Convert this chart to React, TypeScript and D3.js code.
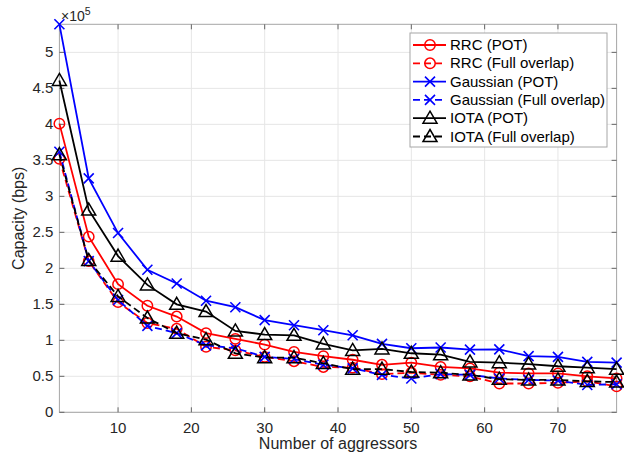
import React from "react";
import * as d3 from "d3";

const xs = [2, 6, 10, 14, 18, 22, 26, 30, 34, 38, 42, 46, 50, 54, 58, 62, 66, 70, 74, 78];
const rrcPot = [4.01, 2.44, 1.78, 1.48, 1.33, 1.10, 1.02, 0.94, 0.84, 0.78, 0.73, 0.66, 0.69, 0.63, 0.61, 0.55, 0.54, 0.54, 0.50, 0.47];
const rrcFull = [3.52, 2.10, 1.53, 1.24, 1.16, 0.91, 0.86, 0.77, 0.71, 0.63, 0.62, 0.53, 0.55, 0.52, 0.50, 0.40, 0.40, 0.41, 0.43, 0.36];
const gaussPot = [5.39, 3.25, 2.49, 1.98, 1.79, 1.55, 1.46, 1.28, 1.21, 1.14, 1.07, 0.95, 0.89, 0.90, 0.87, 0.875, 0.78, 0.77, 0.70, 0.69];
const gaussFull = [3.62, 2.10, 1.56, 1.20, 1.10, 0.93, 0.89, 0.77, 0.74, 0.66, 0.61, 0.52, 0.47, 0.53, 0.52, 0.47, 0.45, 0.44, 0.38, 0.39];
const iotaPot = [4.61, 2.81, 2.17, 1.77, 1.50, 1.40, 1.13, 1.08, 1.07, 0.95, 0.86, 0.88, 0.82, 0.80, 0.70, 0.69, 0.67, 0.64, 0.62, 0.60];
const iotaFull = [3.58, 2.11, 1.61, 1.31, 1.10, 1.01, 0.82, 0.76, 0.76, 0.68, 0.60, 0.60, 0.56, 0.55, 0.52, 0.46, 0.45, 0.45, 0.43, 0.42];

const xTicks = [10, 20, 30, 40, 50, 60, 70];
const yTicks = [0, 0.5, 1, 1.5, 2, 2.5, 3, 3.5, 4, 4.5, 5];

const seriesNames = ["RRC (POT)", "RRC (Full overlap)", "Gaussian (POT)", "Gaussian (Full overlap)", "IOTA (POT)", "IOTA (Full overlap)"];
const seriesValues = [rrcPot, rrcFull, gaussPot, gaussFull, iotaPot, iotaFull];
const seriesColors = ["#ff0000", "#ff0000", "#0000ff", "#0000ff", "#000000", "#000000"];
const seriesDashed = [false, true, false, true, false, true];
const seriesMarkers = ["circle", "circle", "x", "x", "triangle", "triangle"];

const W = 624, H = 459;
const M = { left: 59.4, right: 616.6, top: 24.3, bottom: 412.3 };
const FONT = "'Liberation Sans', Arial, Helvetica, sans-serif";
const TXT = "#262626";

function Marker({ type, x, y, color }: { type: string; x: number; y: number; color: string }) {
  if (type === "circle") return <circle cx={x} cy={y} r={5.2} fill="none" stroke={color} strokeWidth={1.5} />;
  if (type === "x") {
    const s = 5;
    return <path d={`M${x - s},${y - s}L${x + s},${y + s}M${x - s},${y + s}L${x + s},${y - s}`} stroke={color} strokeWidth={1.6} fill="none" />;
  }
  const s = 7;
  return <path d={`M${x},${y - s}L${x + s},${y + s * 0.72}L${x - s},${y + s * 0.72}Z`} stroke={color} strokeWidth={1.5} fill="none" strokeLinejoin="miter" />;
}

export default function App() {
  const yMax = d3.max(seriesValues.flat()) as number;
  const x = d3.scaleLinear().domain([2, 78]).range([M.left, M.right]);
  const y = d3.scaleLinear().domain([0, yMax]).range([M.bottom, M.top]);
  const line = d3.line<number>().x((_, i) => x(xs[i])).y((d) => y(d));
  const tl = 5;

  const legX = 410, legY = 33, legW = 197, legH = 114;
  const rowH = 18.3;

  return (
    <svg width={W} height={H} style={{ position: "absolute", left: 0, top: 0, background: "#fff" }} fontFamily={FONT}>
      <rect x={0} y={0} width={W} height={H} fill="#fff" />
      {xTicks.map((t) => (
        <line key={"gx" + t} x1={x(t)} x2={x(t)} y1={M.top} y2={M.bottom} stroke="#e6e6e6" strokeWidth={1} />
      ))}
      {yTicks.map((t) => (
        <line key={"gy" + t} x1={M.left} x2={M.right} y1={y(t)} y2={y(t)} stroke="#e6e6e6" strokeWidth={1} />
      ))}
      <rect x={M.left} y={M.top} width={M.right - M.left} height={M.bottom - M.top} fill="none" stroke="#a6a6a6" strokeWidth={1} />
      {xTicks.map((t) => (
        <g key={"tx" + t}>
          <line x1={x(t)} x2={x(t)} y1={M.bottom} y2={M.bottom - tl} stroke="#666" />
          <line x1={x(t)} x2={x(t)} y1={M.top} y2={M.top + tl} stroke="#666" />
          <text x={x(t)} y={M.bottom + 21} textAnchor="middle" fontSize={15} fill={TXT}>{t}</text>
        </g>
      ))}
      {yTicks.map((t) => (
        <g key={"ty" + t}>
          <line x1={M.left} x2={M.left + tl} y1={y(t)} y2={y(t)} stroke="#666" />
          <line x1={M.right} x2={M.right - tl} y1={y(t)} y2={y(t)} stroke="#666" />
          <text x={M.left - 6} y={y(t) + 5} textAnchor="end" fontSize={15} fill={TXT}>{t}</text>
        </g>
      ))}
      <text x={61} y={21} fontSize={14} fill={TXT}>
        ×10<tspan dy={-6} fontSize={10.5}>5</tspan>
      </text>
      <text x={(M.left + M.right) / 2} y={449} textAnchor="middle" fontSize={16} fill={TXT}>Number of aggressors</text>
      <text transform={`translate(24,${(M.top + M.bottom) / 2}) rotate(-90)`} textAnchor="middle" fontSize={16} fill={TXT}>Capacity (bps)</text>

      {seriesValues.map((vals, si) => (
        <g key={"s" + si}>
          <path d={line(vals) || ""} fill="none" stroke={seriesColors[si]} strokeWidth={1.8} strokeDasharray={seriesDashed[si] ? "7,4" : undefined} />
          {vals.map((v, i) => (
            <Marker key={i} type={seriesMarkers[si]} x={x(xs[i])} y={y(v)} color={seriesColors[si]} />
          ))}
        </g>
      ))}

      <rect x={legX} y={legY} width={legW} height={legH} fill="#fff" stroke="#a6a6a6" strokeWidth={1} />
      {seriesNames.map((n, i) => {
        const cy = legY + 12 + i * rowH;
        return (
          <g key={"l" + i}>
            <line x1={413} x2={446} y1={cy} y2={cy} stroke={seriesColors[i]} strokeWidth={1.8} strokeDasharray={seriesDashed[i] ? "7,4" : undefined} />
            <Marker type={seriesMarkers[i]} x={430} y={cy} color={seriesColors[i]} />
            <text x={450} y={cy + 5} fontSize={15} fill="#000">{n}</text>
          </g>
        );
      })}
    </svg>
  );
}
